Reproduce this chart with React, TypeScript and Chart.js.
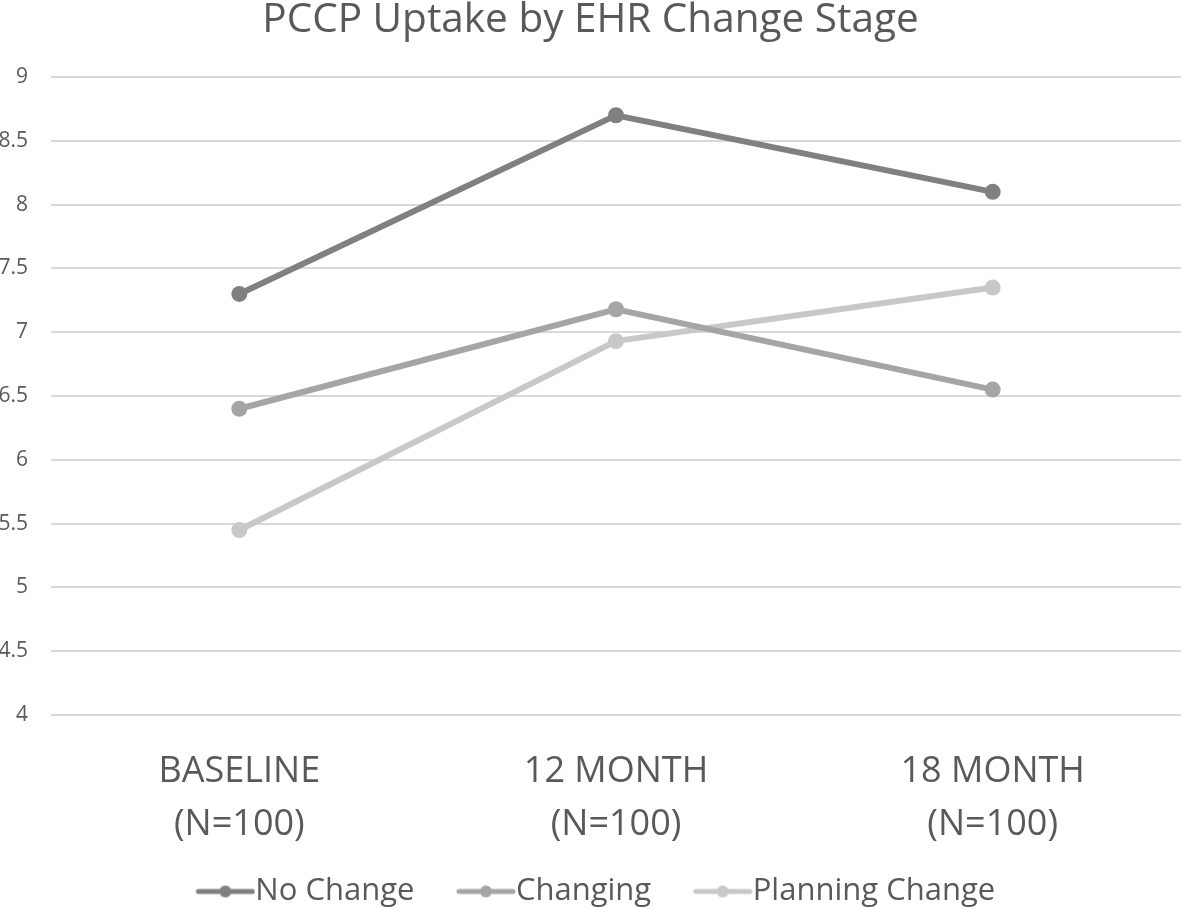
import React, { useEffect, useRef } from "react";
import { Chart, registerables } from "chart.js";

Chart.register(...registerables);

const categories: string[][] = [
  ["BASELINE", "(N=100)"],
  ["12 MONTH", "(N=100)"],
  ["18 MONTH", "(N=100)"],
];
const noChange = [7.3, 8.7, 8.1];
const changing = [6.4, 7.18, 6.55];
const planningChange = [5.45, 6.93, 7.35];
const seriesNames = ["No Change", "Changing", "Planning Change"];
const seriesColors = ["#808080", "#a5a5a5", "#c8c8c8"];

const FONT = "'Open Sans', sans-serif";
const TEXT = "#595959";

const LEGEND_BOX = 76;
const LEGEND_IMG = 107;

function makeLegendImage(color: string): HTMLCanvasElement {
  const c = document.createElement("canvas");
  c.width = LEGEND_IMG;
  c.height = 14;
  const ctx = c.getContext("2d")!;
  const end = LEGEND_IMG - 3;
  const start = end - 54;
  ctx.strokeStyle = color;
  ctx.lineWidth = 5;
  ctx.lineCap = "round";
  ctx.beginPath();
  ctx.moveTo(start, 7);
  ctx.lineTo(end, 7);
  ctx.stroke();
  ctx.fillStyle = color;
  ctx.beginPath();
  ctx.arc((start + end) / 2, 7, 6, 0, Math.PI * 2);
  ctx.fill();
  return c;
}

const legendShift = {
  id: "legendShift",
  afterLayout(chart: any) {
    const lg = chart.legend;
    if (!lg) return;
    lg.left -= 11;
    lg.right -= 11;
    lg.top += 8;
    lg.bottom += 8;
  },
};

export default function App() {
  const ref = useRef<HTMLCanvasElement | null>(null);
  useEffect(() => {
    if (!ref.current) return;
    const imgs = seriesColors.map(makeLegendImage);
    const values = [noChange, changing, planningChange];
    const chart = new Chart(ref.current, {
      type: "line",
      data: {
        labels: categories,
        datasets: values.map((v, i) => ({
          label: seriesNames[i],
          data: v,
          borderColor: seriesColors[i],
          backgroundColor: seriesColors[i],
          borderWidth: 6,
          pointRadius: 8,
          pointHoverRadius: 8,
          pointBorderWidth: 0,
          tension: 0,
        })),
      },
      plugins: [legendShift],
      options: {
        animation: false,
        responsive: true,
        maintainAspectRatio: false,
        layout: { autoPadding: false, padding: { left: 0, right: 0, top: 0, bottom: 0 } },
        plugins: {
          title: {
            display: true,
            text: "PCCP Uptake by EHR Change Stage",
            color: TEXT,
            font: { family: FONT, size: 40.5, weight: "normal", lineHeight: 1.0 },
            padding: { top: 0, bottom: 36.5 },
          },
          legend: {
            position: "bottom",
            labels: {
              color: TEXT,
              font: { family: FONT, size: 31 },
              usePointStyle: true,
              pointStyleWidth: LEGEND_BOX,
              padding: 10,
              generateLabels: (ch: any) => {
                const items = Chart.defaults.plugins.legend.labels.generateLabels(ch);
                return items.map((it: any, i: number) => ({
                  ...it,
                  pointStyle: imgs[i],
                  fontColor: TEXT,
                }));
              },
            },
          },
          tooltip: { enabled: false },
        },
        scales: {
          x: {
            grid: { display: false, drawTicks: false },
            border: { display: false },
            offset: true,
            afterFit: (s: any) => {
              s.height = 143;
              s.paddingLeft = 0;
              s.paddingRight = 0;
            },
            ticks: {
              color: TEXT,
              font: { family: FONT, size: 36, lineHeight: 1.45 },
              padding: 31,
              maxRotation: 0,
            },
          },
          y: {
            min: 4,
            max: 9,
            grid: { color: "#d9d9d9", lineWidth: 2, drawTicks: false },
            border: { display: false },
            afterFit: (s: any) => {
              s.width = 51;
            },
            ticks: {
              stepSize: 0.5,
              color: TEXT,
              font: { family: FONT, size: 21 },
              padding: 23,
              callback: (v: any) => String(Number(v)),
            },
          },
        },
      },
    });
    return () => chart.destroy();
  }, []);
  return (
    <div style={{ position: "fixed", left: 0, top: 0, width: 1181, height: 909, background: "#fff" }}>
      <canvas ref={ref} />
    </div>
  );
}
